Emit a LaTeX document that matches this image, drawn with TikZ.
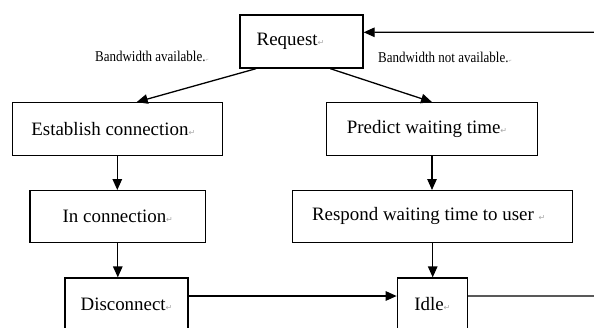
\documentclass[tikz,border=0pt]{standalone}
\usepackage{fontspec}
\setmainfont{Liberation Serif}
\newfontfamily\markfont{DejaVu Sans}
\newfontfamily\labelfont[FakeStretch=0.87]{Liberation Serif}
\usetikzlibrary{arrows.meta}

% paragraph marks
\newcommand{\pmark}{{\markfont\fontsize{8}{8}\selectfont\color{gray!70}↵}}
\newcommand{\smallpmark}{{\markfont\fontsize{4}{4}\selectfont\color{gray!70}↵}}

\begin{document}
\begin{tikzpicture}[
  x=1bp, y=-1bp,
  box/.style={draw, line width=1.3bp, minimum height=53bp, inner sep=0pt,
    font=\fontsize{19}{21}\selectfont},
  flow/.style={line width=1.3bp, -{Triangle[length=11bp,width=9.5bp]}},
  tag/.style={font=\labelfont\fontsize{15}{17}\selectfont, inner sep=0pt}
]

  \useasboundingbox (0,0) rectangle (594,327);
  \clip (0,0) rectangle (594,327);

  % Cajas
  \node[box, minimum width=123bp] (req) at (301.5,41.5)
    {Request\pmark\hspace*{22bp}};

  \node[box, minimum width=210bp] (est) at (117.3,129.2)
    {Establish connection\pmark\hspace*{8bp}};

  \node[box, minimum width=210.6bp] (pred) at (432,129.2)
    {Predict waiting time\pmark\hspace*{10bp}};

  \node[box, minimum width=175.7bp, minimum height=51.5bp] (inc) at (117.8,216.4)
    {In connection\pmark};

  \node[box, minimum width=280bp, minimum height=51.5bp] (resp) at (432.7,216.4)
    {Respond waiting time to user \pmark\hspace*{8bp}};

  \node[box, minimum width=123bp] (disc) at (126.5,304.5)
    {Disconnect\pmark};

  \node[box, minimum width=70bp] (idle) at (432.3,304.5)
    {Idle\pmark};

  % Etiquetas
  \node[tag] (avail) at (152,56) {Bandwidth available.\smallpmark};
  \node[tag] (notavail) at (445,57) {Bandwidth not available.\smallpmark};

  % Flechas
  \draw[flow] ([xshift=16.7bp]req.south west) -- ([xshift=19.4bp]est.north);
  \draw[flow] ([xshift=-33.4bp]req.south east) -- (pred.north);

  \draw[flow] (est.south) -- (est.south |- inc.north);
  \draw[flow] (inc.south) -- (inc.south |- disc.north);
  \draw[flow] (pred.south) -- (pred.south |- resp.north);
  \draw[flow] (resp.south) -- (resp.south |- idle.north);

  \draw[flow] ([yshift=8.5bp]disc.east) -- ([yshift=8.5bp]idle.west);

  % Entrada y salida por la derecha
  \coordinate (back) at (594,32.3);
  \coordinate (out) at (594,296);
  \draw[flow] (back) -- ([yshift=9.2bp]req.east);
  \draw[line width=1.3bp] ([yshift=8.5bp]idle.east) -- (out);

\end{tikzpicture}
\end{document}
